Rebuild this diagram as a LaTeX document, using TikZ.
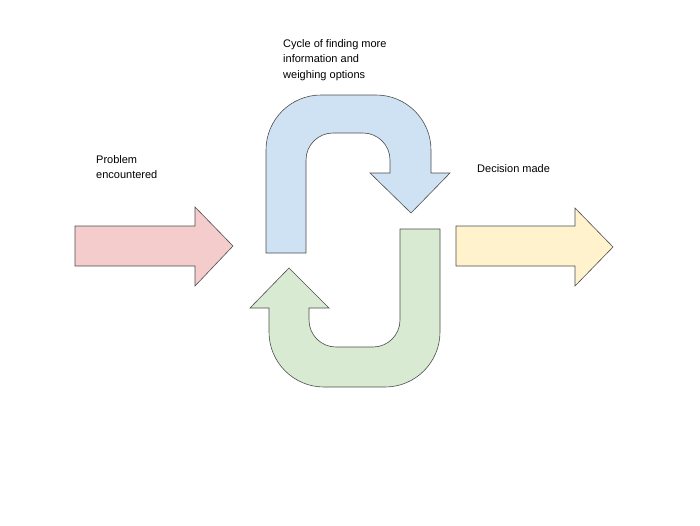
\documentclass[tikz,border=0pt]{standalone}
\usepackage{fontspec}
\setmainfont{Liberation Sans}
\usetikzlibrary{positioning}
\definecolor{redfill}{HTML}{F4CCCC}
\definecolor{bluefill}{HTML}{CFE2F3}
\definecolor{greenfill}{HTML}{D9EAD3}
\definecolor{yellowfill}{HTML}{FFF2CC}

\begin{document}
\begin{tikzpicture}[x=1pt,y=-1pt,
    bigarrow/.style={draw=black!70, line width=0.6pt, line join=miter},
    caption/.style={align=left, anchor=north west, inner sep=0pt,
                    font=\fontsize{11}{15.5}\selectfont}]
    \useasboundingbox (0,0) rectangle (700,525);

    % straight arrows
    \draw[bigarrow, fill=redfill] (75,226) -- (195,226) -- (195,207) -- (233,246)
      -- (195,286) -- (195,266) -- (75,266) -- cycle;
    \draw[bigarrow, fill=yellowfill] (456,226) -- (575,226) -- (575,208) -- (613,247)
      -- (575,286) -- (575,266) -- (456,266) -- cycle;

    % upper turn
    \draw[bigarrow, fill=bluefill] (266,253)
      [rounded corners=55pt] -- (266,95) -- (431,95)
      [sharp corners] -- (431,173) -- (450,173) -- (411,213) -- (370,173) -- (390,173)
      [rounded corners=27pt] -- (390,133) -- (306,133)
      [sharp corners] -- (306,253) -- cycle;

    % lower turn
    \draw[bigarrow, fill=greenfill] (440,229)
      [rounded corners=55pt] -- (440,387) -- (269,387)
      [sharp corners] -- (269,308) -- (250,308) -- (289,268) -- (329,308) -- (309,308)
      [rounded corners=27pt] -- (309,347) -- (400,347)
      [sharp corners] -- (400,229) -- cycle;

    \node (cycle) [caption] at (283,39) {Cycle of finding more\\information and\\weighing options};
    \node (problem) [caption] at (96,155) {Problem\\encountered};
    \node (decision) [caption] at (477,164) {Decision made};
\end{tikzpicture}
\end{document}
